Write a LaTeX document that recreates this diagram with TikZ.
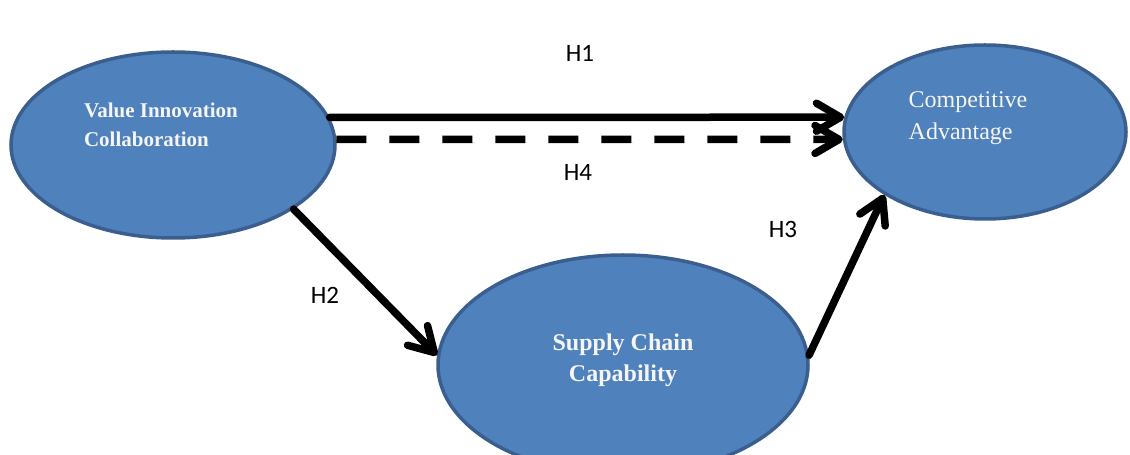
\documentclass[tikz,border=0pt]{standalone}
\usepackage{fontspec}
\setmainfont{Liberation Serif}
\newfontfamily\hypfont{Carlito}
\usetikzlibrary{arrows.meta,shapes.geometric}

\definecolor{ovalfill}{HTML}{4F81BD}
\definecolor{ovalline}{HTML}{3A5F8E}

\begin{document}
\begin{tikzpicture}[x=1pt, y=1pt]

\tikzset{%
    construct/.style={ellipse, draw=ovalline, line width=3.5pt, fill=ovalfill, inner sep=0pt},
    ctext/.style={text=white!96!black, inner sep=0pt, font=#1},
    link/.style={line width=7.5pt, line cap=round,
        -{Straight Barb[length=24pt, width=28pt, line cap=round, line join=round]}},
    solid link/.style={link,
        preaction={draw=black!15, transform canvas={shift={(2pt,-3pt)}}}},
    dashed link/.style={link, line cap=butt, dash pattern=on 30pt off 23pt,
        preaction={draw=black!15, dash pattern=on 30pt off 23pt,
            transform canvas={shift={(2pt,-3pt)}}}},
    hyp/.style={inner sep=0pt, font=\hypfont\fontsize{25}{30}\selectfont}
}

\useasboundingbox (0,0) rectangle (1130,455);
\clip (0,0) rectangle (1130,455);

% constructs
\node[construct, minimum width=324, minimum height=186] (vi) at (173,310) {};
\node[construct, minimum width=282, minimum height=174] (ca) at (985,323) {};
\node[construct, minimum width=370, minimum height=220] (sc) at (623,90) {};

\node[ctext={\bfseries\fontsize{21}{29}\selectfont}, align=left] (vitext)
    at ([shift={(-12,20)}]vi.center) {Value Innovation\\Collaboration};
\node[ctext={\fontsize{24}{32}\selectfont}, align=left] (catext)
    at ([shift={(-17,14)}]ca.center) {Competitive\\Advantage};
\node[ctext={\bfseries\fontsize{24}{31}\selectfont}, align=center] (sctext)
    at ([shift={(0,5)}]sc.center) {Supply Chain\\Capability};

% hypotheses
\draw[solid link] (vi.10) -- (ca.174);
\draw[dashed link] (vi.2) -- (ca.183);
\draw[solid link] (vi.-28) -- (sc.177);
\draw[solid link] (sc.3) -- (ca.212);

\node[hyp] (h1) at (580,402) {H1};
\node[hyp] (h4) at (578,283) {H4};
\node[hyp] (h2) at (325,160) {H2};
\node[hyp] (h3) at (783,226) {H3};

\end{tikzpicture}
\end{document}
